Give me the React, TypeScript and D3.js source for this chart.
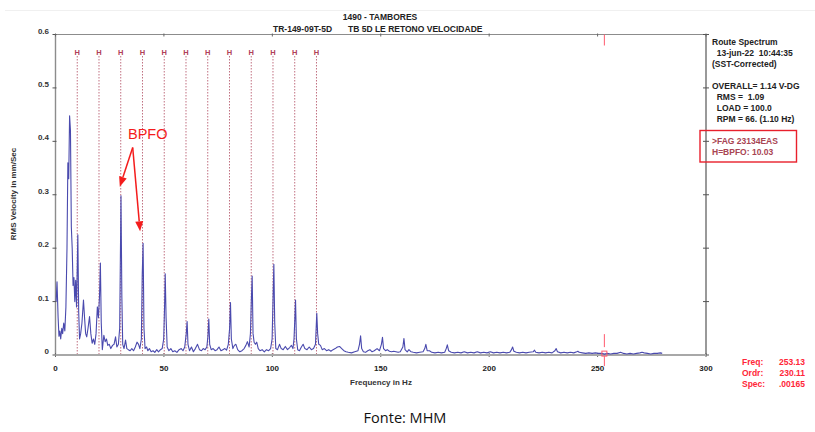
import React, { useEffect, useRef } from "react";
import * as d3 from "d3";

// ---- data ----
const titleLine1 = "1490 - TAMBORES";
const titleLeft = "TR-149-09T-5D";
const titleRight = "TB 5D LE RETONO VELOCIDADE";
const yTicks = [0, 0.1, 0.2, 0.3, 0.4, 0.5, 0.6];
const yTickLabels = ["0", "0.1", "0.2", "0.3", "0.4", "0.5", "0.6"];
const xTicks = [0, 50, 100, 150, 200, 250, 300];
const bpfoHz = 10.03;
const harmonicOrders = [1, 2, 3, 4, 5, 6, 7, 8, 9, 10, 11, 12];
const cursorFreq = 253.13;
const cursorValue = 0.00165;
const bpfoPeaks = [30.2, 40.4];
const bpfoPeakValues = [0.298, 0.209];
const infoLines = [
  "Route Spectrum",
  "  13-jun-22  10:44:35",
  "(SST-Corrected)",
  "",
  "OVERALL= 1.14 V-DG",
  "  RMS =  1.09",
  "  LOAD = 100.0",
  "  RPM = 66. (1.10 Hz)",
];
const faultLines = [">FAG 23134EAS", "H=BPFO: 10.03"];
const cursorLabels = ["Freq:", "Ordr:", "Spec:"];
const cursorValues = ["253.13", "230.11", ".00165"];

// [frequency Hz, RMS velocity mm/s]
const spectrum: [number, number][] = [
  [0.3, 0.1], [0.7, 0.137], [1.2, 0.07], [1.6, 0.035], [2.0, 0.045], [2.4, 0.03], [2.9, 0.05],
  [3.3, 0.04], [3.8, 0.06], [4.3, 0.045], [4.8, 0.09], [5.3, 0.2], [5.7, 0.36], [6.1, 0.33],
  [6.5, 0.448], [6.9, 0.42], [7.3, 0.24], [7.7, 0.2], [8.1, 0.13], [8.5, 0.145], [8.9, 0.1],
  [9.3, 0.14], [9.7, 0.09], [10.3, 0.225], [10.7, 0.08], [11.1, 0.03], [11.6, 0.04], [12.2, 0.06],
  [12.9, 0.103], [13.4, 0.07], [13.9, 0.04], [14.4, 0.034], [15.0, 0.05], [15.7, 0.072],
  [16.3, 0.04], [16.9, 0.022], [17.5, 0.03], [18.1, 0.02], [18.7, 0.04], [19.3, 0.09],
  [19.8, 0.07], [20.3, 0.11], [20.7, 0.172], [21.1, 0.06], [21.6, 0.01], [22.3, 0.037],
  [22.9, 0.025], [23.5, 0.03], [24.1, 0.018], [24.8, 0.02], [25.5, 0.012], [26.3, 0.018],
  [27.0, 0.02], [27.7, 0.034], [28.3, 0.015], [29.0, 0.02], [29.6, 0.05], [30.2, 0.298],
  [30.6, 0.11], [31.0, 0.02], [31.6, 0.012], [32.3, 0.028], [32.9, 0.012], [33.6, 0.01],
  [34.4, 0.008], [35.2, 0.012], [36.0, 0.008], [36.8, 0.015], [37.6, 0.024], [38.3, 0.02],
  [38.9, 0.012], [39.6, 0.03], [40.0, 0.15], [40.4, 0.209], [40.8, 0.05], [41.3, 0.012],
  [42.0, 0.015], [42.6, 0.008], [43.3, 0.012], [44.1, 0.006], [45.0, 0.008], [45.8, 0.005],
  [46.7, 0.01], [47.5, 0.006], [48.4, 0.01], [49.2, 0.012], [49.9, 0.03], [50.3, 0.09],
  [50.6, 0.152], [51.0, 0.07], [51.5, 0.015], [52.3, 0.008], [53.2, 0.012], [54.1, 0.006],
  [55.0, 0.008], [56.0, 0.005], [57.0, 0.01], [58.0, 0.012], [58.8, 0.008], [59.6, 0.015],
  [60.3, 0.04], [60.7, 0.0625], [61.1, 0.02], [61.8, 0.008], [62.7, 0.015], [63.6, 0.006],
  [64.5, 0.012], [65.5, 0.02], [66.4, 0.01], [67.3, 0.008], [68.1, 0.012], [69.0, 0.01],
  [69.8, 0.015], [70.3, 0.035], [70.7, 0.0675], [71.1, 0.02], [71.8, 0.01], [72.7, 0.012],
  [73.6, 0.008], [74.5, 0.01], [75.4, 0.015], [76.3, 0.008], [77.2, 0.01], [78.1, 0.012],
  [78.9, 0.009], [79.7, 0.02], [80.3, 0.05], [80.7, 0.098], [81.1, 0.03], [81.8, 0.012],
  [82.5, 0.018], [83.2, 0.02], [84.0, 0.01], [85.0, 0.006], [86.0, 0.008], [87.0, 0.012],
  [87.8, 0.018], [88.5, 0.025], [89.3, 0.015], [89.9, 0.04], [90.3, 0.1], [90.7, 0.148],
  [91.1, 0.04], [91.6, 0.024], [92.2, 0.02], [92.8, 0.024], [93.5, 0.012], [94.3, 0.008],
  [95.3, 0.01], [96.3, 0.006], [97.3, 0.01], [98.3, 0.008], [99.2, 0.012], [99.9, 0.03],
  [100.3, 0.1], [100.7, 0.17], [101.1, 0.06], [101.6, 0.012], [102.4, 0.01], [103.3, 0.02],
  [104.1, 0.012], [105.0, 0.01], [106.0, 0.016], [107.0, 0.01], [108.0, 0.014], [108.8, 0.018],
  [109.5, 0.012], [110.0, 0.03], [110.4, 0.07], [110.7, 0.103], [111.1, 0.03], [111.7, 0.01],
  [112.5, 0.008], [113.4, 0.015], [114.2, 0.02], [115.0, 0.012], [116.0, 0.01], [117.0, 0.015],
  [118.0, 0.01], [119.0, 0.012], [119.9, 0.02], [120.5, 0.078], [120.9, 0.04], [121.4, 0.02],
  [122.2, 0.018], [123.0, 0.01], [124.0, 0.012], [125.0, 0.008], [126.0, 0.01], [127.0, 0.007],
  [128.0, 0.01], [129.0, 0.012], [130.0, 0.015], [131.0, 0.016], [132.0, 0.012], [133.0, 0.008],
  [134.0, 0.006], [135.0, 0.005], [136.5, 0.004], [138.0, 0.006], [139.5, 0.008], [140.2, 0.02],
  [140.7, 0.036], [141.2, 0.012], [142.0, 0.006], [143.0, 0.005], [144.0, 0.008], [145.0, 0.01],
  [146.0, 0.006], [147.0, 0.008], [148.3, 0.012], [149.4, 0.008], [150.3, 0.02], [150.8, 0.033],
  [151.3, 0.012], [152.2, 0.008], [153.0, 0.01], [154.0, 0.007], [155.0, 0.006], [156.0, 0.007],
  [157.0, 0.006], [158.0, 0.005], [159.0, 0.006], [160.2, 0.015], [160.7, 0.031], [161.2, 0.01],
  [162.2, 0.006], [163.0, 0.01], [164.0, 0.006], [165.0, 0.005], [166.5, 0.004], [168.0, 0.005],
  [169.5, 0.006], [170.3, 0.012], [170.8, 0.02], [171.4, 0.008], [172.5, 0.008], [173.5, 0.005],
  [175.0, 0.004], [176.5, 0.005], [178.0, 0.004], [179.5, 0.005], [180.2, 0.012], [180.7, 0.019],
  [181.3, 0.008], [182.5, 0.005], [184, 0.004], [185.5, 0.005], [187, 0.004], [188.5, 0.006],
  [190, 0.004], [191.5, 0.005], [193, 0.004], [194.5, 0.006], [196, 0.004], [197.5, 0.005],
  [199, 0.004], [200.5, 0.006], [202, 0.004], [203.5, 0.005], [205, 0.004], [206.5, 0.005],
  [208, 0.004], [209.5, 0.005], [210.3, 0.01], [210.8, 0.015], [211.4, 0.007], [212.5, 0.005],
  [214, 0.004], [215.5, 0.005], [217, 0.004], [218.5, 0.005], [220.3, 0.006], [220.9, 0.009],
  [221.5, 0.005], [223, 0.004], [224.5, 0.005], [226, 0.004], [227.5, 0.005], [229, 0.004],
  [230.3, 0.008], [230.9, 0.012], [231.5, 0.006], [233, 0.004], [234.5, 0.005], [236, 0.004],
  [237.5, 0.005], [239, 0.004], [240.4, 0.006], [240.9, 0.007], [241.5, 0.005], [243, 0.004],
  [244.5, 0.003], [246, 0.004], [247.5, 0.003], [249, 0.004], [250.5, 0.003], [252, 0.003],
  [253.13, 0.00165], [254.5, 0.003], [256, 0.002], [257.5, 0.003], [259, 0.003], [260.6, 0.005],
  [262, 0.003], [263.5, 0.002], [265, 0.003], [266.5, 0.002], [268, 0.003], [269.5, 0.004],
  [270.5, 0.005], [271.5, 0.004], [273, 0.003], [274.5, 0.002], [276, 0.003], [277.5, 0.003],
  [279, 0.004], [279.8, 0.003],
];

const W = 815;
const H = 432;
const FONT = "'Liberation Sans', Arial, sans-serif";

export default function App() {
  const ref = useRef<SVGSVGElement | null>(null);

  useEffect(() => {
    const svg = d3.select(ref.current);
    svg.selectAll("*").remove();

    const x = d3.scaleLinear().domain([0, 300]).range([55.5, 706]);
    const y = d3.scaleLinear().domain([0, 0.6]).range([355, 34.5]);
    const [x0, x1] = x.range();
    const [yb, yt] = y.range();

    svg.append("rect").attr("width", W).attr("height", H).attr("fill", "#fff");
    svg.append("line").attr("x1", 5).attr("x2", W).attr("y1", 10.5).attr("y2", 10.5)
      .attr("stroke", "#f0f0f0").attr("stroke-width", 1);

    // Titles
    svg.append("text").attr("x", 380).attr("y", 20).attr("text-anchor", "middle")
      .attr("font-family", FONT).attr("font-weight", "bold").attr("font-size", 8.5)
      .attr("fill", "#222").text(titleLine1);
    svg.append("text").attr("x", 273).attr("y", 32).attr("font-family", FONT)
      .attr("font-weight", "bold").attr("font-size", 8.5).attr("fill", "#222").text(titleLeft);
    svg.append("text").attr("x", 348).attr("y", 32).attr("font-family", FONT)
      .attr("font-weight", "bold").attr("font-size", 8.5).attr("fill", "#222").text(titleRight);

    // Frame axes
    const axisColor = "#8c8c8c";
    svg.append("line").attr("x1", x0).attr("x2", x1).attr("y1", yt).attr("y2", yt)
      .attr("stroke", axisColor).attr("stroke-width", 1.2);
    svg.append("line").attr("x1", x0).attr("x2", x0).attr("y1", yt).attr("y2", yb)
      .attr("stroke", axisColor).attr("stroke-width", 1.4);
    svg.append("line").attr("x1", x1).attr("x2", x1).attr("y1", yt).attr("y2", yb)
      .attr("stroke", "#555").attr("stroke-width", 1.2);

    // Y ticks + labels
    yTicks.forEach((t, i) => {
      const yy = y(t);
      svg.append("line").attr("x1", x0 - 3).attr("x2", x0 + 1).attr("y1", yy).attr("y2", yy)
        .attr("stroke", "#555").attr("stroke-width", 1);
      svg.append("line").attr("x1", x1 - 3).attr("x2", x1 + 3).attr("y1", yy).attr("y2", yy)
        .attr("stroke", "#555").attr("stroke-width", 1);
      svg.append("text").attr("x", 49).attr("y", yy - 1).attr("text-anchor", "end")
        .attr("font-family", FONT).attr("font-weight", "bold").attr("font-size", 8)
        .attr("fill", "#333").text(yTickLabels[i]);
    });

    // X ticks + labels
    xTicks.forEach((t) => {
      const xx = x(t);
      svg.append("line").attr("x1", xx).attr("x2", xx).attr("y1", yt - 1).attr("y2", yt + 2)
        .attr("stroke", "#666").attr("stroke-width", 1);
      svg.append("line").attr("x1", xx).attr("x2", xx).attr("y1", yb - 2).attr("y2", yb + 2)
        .attr("stroke", "#666").attr("stroke-width", 1);
      svg.append("text").attr("x", xx).attr("y", 371).attr("text-anchor", "middle")
        .attr("font-family", FONT).attr("font-weight", "bold").attr("font-size", 8)
        .attr("fill", "#222").text(String(t));
    });

    // Axis titles
    svg.append("text").attr("x", 381).attr("y", 385).attr("text-anchor", "middle")
      .attr("font-family", FONT).attr("font-weight", "bold").attr("font-size", 8)
      .attr("fill", "#333").text("Frequency in Hz");
    svg.append("text").attr("transform", "translate(16,194) rotate(-90)")
      .attr("text-anchor", "middle").attr("font-family", FONT).attr("font-weight", "bold")
      .attr("font-size", 8).attr("fill", "#333").text("RMS Velocity in mm/Sec");

    // Harmonic markers
    harmonicOrders.forEach((k) => {
      const xx = x(k * bpfoHz);
      svg.append("line").attr("x1", xx).attr("x2", xx).attr("y1", 56).attr("y2", yb)
        .attr("stroke", "#c07080").attr("stroke-width", 1).attr("stroke-dasharray", "1.5,1.5");
      svg.append("text").attr("x", xx).attr("y", 54.5).attr("text-anchor", "middle")
        .attr("font-family", FONT).attr("font-weight", "bold").attr("font-size", 7.5)
        .attr("fill", "#b04058").text("H");
    });

    // Bottom axis line
    svg.append("line").attr("x1", x0).attr("x2", x1).attr("y1", yb).attr("y2", yb)
      .attr("stroke", "#a8a8a8").attr("stroke-width", 2);

    // Spectrum
    const line = d3.line<[number, number]>().x((d) => x(d[0])).y((d) => y(d[1]));
    svg.append("path").datum(spectrum).attr("d", line).attr("fill", "none")
      .attr("stroke", "#4a4aae").attr("stroke-width", 1.1).attr("stroke-linejoin", "round");

    // Cursor
    const cx = x(cursorFreq);
    const cy = y(cursorValue);
    const cursorColor = "#ff5a6e";
    svg.append("line").attr("x1", cx).attr("x2", cx).attr("y1", yt).attr("y2", yt + 11)
      .attr("stroke", cursorColor).attr("stroke-width", 1);
    svg.append("line").attr("x1", cx).attr("x2", cx).attr("y1", cy - 20).attr("y2", cy - 7)
      .attr("stroke", cursorColor).attr("stroke-width", 1);
    svg.append("rect").attr("x", cx - 2.5).attr("y", cy - 3).attr("width", 5).attr("height", 5)
      .attr("fill", "none").attr("stroke", cursorColor).attr("stroke-width", 1);
    svg.append("line").attr("x1", cx).attr("x2", cx).attr("y1", cy + 2).attr("y2", cy + 12)
      .attr("stroke", cursorColor).attr("stroke-width", 1);

    // Info block
    infoLines.forEach((t, i) => {
      if (!t) return;
      svg.append("text").attr("x", 712).attr("y", 45 + i * 11).attr("font-family", FONT)
        .attr("font-weight", "bold").attr("font-size", 8.5).attr("fill", "#222")
        .style("white-space", "pre").text(t);
    });
    faultLines.forEach((t, i) => {
      svg.append("text").attr("x", 712).attr("y", 144 + i * 11.3).attr("font-family", FONT)
        .attr("font-weight", "bold").attr("font-size", 8.5).attr("fill", "#a84452")
        .style("white-space", "pre").text(t);
    });
    svg.append("rect").attr("x", 700).attr("y", 130.5).attr("width", 96.5).attr("height", 31.5)
      .attr("fill", "none").attr("stroke", "#e8202c").attr("stroke-width", 1.4);

    // Cursor readout
    cursorLabels.forEach((t, i) => {
      svg.append("text").attr("x", 742).attr("y", 364.5 + i * 11).attr("font-family", FONT)
        .attr("font-weight", "bold").attr("font-size", 8.5).attr("fill", "#ff2638").text(t);
      svg.append("text").attr("x", 805).attr("y", 364.5 + i * 11).attr("text-anchor", "end")
        .attr("font-family", FONT).attr("font-weight", "bold").attr("font-size", 8.5)
        .attr("fill", "#ff2638").text(cursorValues[i]);
    });

    // BPFO annotation
    const red = "#f41c1c";
    svg.append("text").attr("x", 128).attr("y", 138.5).attr("font-family", FONT)
      .attr("font-size", 14.5).attr("fill", red).text("BPFO");
    const start: [number, number] = [132.7, 147.5];
    const tipOffsets: [number, number][] = [[-1.2, -9], [-3, -12]];
    bpfoPeaks.forEach((f, i) => {
      const tx = x(f) + tipOffsets[i][0];
      const ty = y(bpfoPeakValues[i]) + tipOffsets[i][1];
      const ang = Math.atan2(ty - start[1], tx - start[0]);
      const len = 10;
      const half = 4;
      const bx = tx - len * Math.cos(ang);
      const by = ty - len * Math.sin(ang);
      svg.append("line").attr("x1", start[0]).attr("y1", start[1]).attr("x2", bx).attr("y2", by)
        .attr("stroke", red).attr("stroke-width", 1.5);
      const px = -Math.sin(ang) * half;
      const py = Math.cos(ang) * half;
      svg.append("path")
        .attr("d", `M${tx},${ty}L${bx + px},${by + py}L${bx - px},${by - py}Z`)
        .attr("fill", red);
    });

    // Source
    svg.append("text").attr("x", 405).attr("y", 423).attr("text-anchor", "middle")
      .attr("font-family", "'Open Sans', 'Liberation Sans', sans-serif").attr("font-size", 14.5)
      .attr("fill", "#111").text("Fonte: MHM");
  }, []);

  return (
    <svg
      ref={ref}
      width={W}
      height={H}
      style={{ position: "absolute", left: 0, top: 0, display: "block" }}
    />
  );
}
